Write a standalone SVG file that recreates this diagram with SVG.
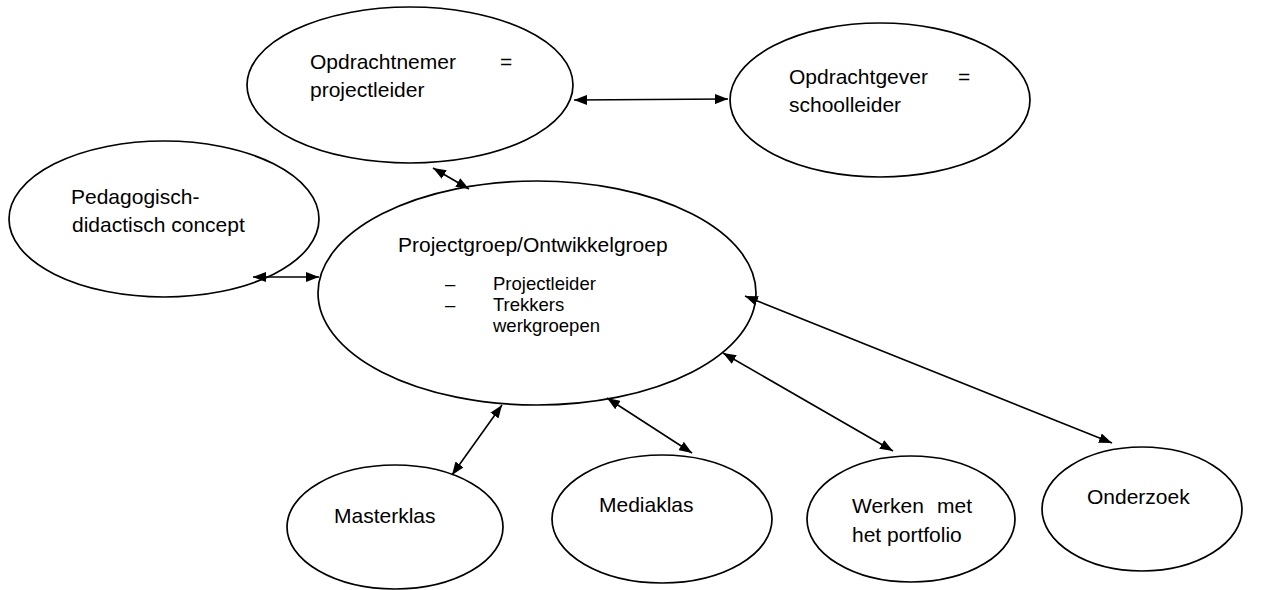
<svg xmlns="http://www.w3.org/2000/svg" width="1268" height="590" viewBox="0 0 1268 590">
<defs>
<marker id="ah" viewBox="0 0 13 10" refX="13" refY="5" markerWidth="13" markerHeight="10" markerUnits="userSpaceOnUse" orient="auto-start-reverse">
<path d="M0,0 L13,5 L0,10 z" fill="#000"/>
</marker>
<style>
.n{fill:#fff;stroke:#000;stroke-width:1.7}
.t{font-family:"Liberation Sans",Arial,sans-serif;font-size:21px;fill:#000}
.s{font-family:"Liberation Sans",Arial,sans-serif;font-size:18.5px;fill:#000}
.c{stroke:#000;stroke-width:1.6;fill:none;marker-start:url(#ah);marker-end:url(#ah)}
</style>
</defs>
<rect width="1268" height="590" fill="#fff"/>
<g id="opdrachtnemer">
<ellipse class="n" cx="410" cy="85" rx="163" ry="78"/>
<text class="t" x="310" y="69">Opdrachtnemer</text>
<text class="t" x="500" y="69">=</text>
<text class="t" x="310" y="97">projectleider</text>
</g>
<g id="opdrachtgever">
<ellipse class="n" cx="880" cy="100" rx="150" ry="77"/>
<text class="t" x="789" y="84">Opdrachtgever</text>
<text class="t" x="958" y="84">=</text>
<text class="t" x="789" y="112">schoolleider</text>
</g>
<g id="pedagogisch">
<ellipse class="n" cx="164" cy="219" rx="155" ry="78"/>
<text class="t" x="71" y="204">Pedagogisch-</text>
<text class="t" x="72" y="232">didactisch concept</text>
</g>
<g id="projectgroep">
<ellipse class="n" cx="537" cy="293" rx="219" ry="112"/>
<text class="t" x="398" y="252">Projectgroep/Ontwikkelgroep</text>
<text class="s" x="445" y="290">–</text>
<text class="s" x="493" y="290">Projectleider</text>
<text class="s" x="445" y="311">–</text>
<text class="s" x="493" y="311">Trekkers</text>
<text class="s" x="493" y="332">werkgroepen</text>
</g>
<g id="masterklas">
<ellipse class="n" cx="395" cy="527" rx="108" ry="62"/>
<text class="t" x="334" y="523">Masterklas</text>
</g>
<g id="mediaklas">
<ellipse class="n" cx="662" cy="519" rx="110" ry="64"/>
<text class="t" x="599" y="512">Mediaklas</text>
</g>
<g id="portfolio">
<ellipse class="n" cx="911" cy="519" rx="104" ry="63"/>
<text class="t" x="852" y="513">Werken</text>
<text class="t" x="937" y="513">met</text>
<text class="t" x="852" y="542">het portfolio</text>
</g>
<g id="onderzoek">
<ellipse class="n" cx="1142" cy="509" rx="100" ry="62"/>
<text class="t" x="1087" y="504">Onderzoek</text>
</g>
<g id="connectors">
<line class="c" x1="574" y1="100" x2="728" y2="99"/>
<line class="c" x1="433" y1="168" x2="469" y2="189"/>
<line class="c" x1="253" y1="277" x2="319" y2="277"/>
<line class="c" x1="502" y1="405" x2="452" y2="475"/>
<line class="c" x1="607" y1="398" x2="692" y2="453"/>
<line class="c" x1="723" y1="353" x2="893" y2="451"/>
<line class="c" x1="745" y1="296" x2="1112" y2="443"/>
</g>
</svg>
